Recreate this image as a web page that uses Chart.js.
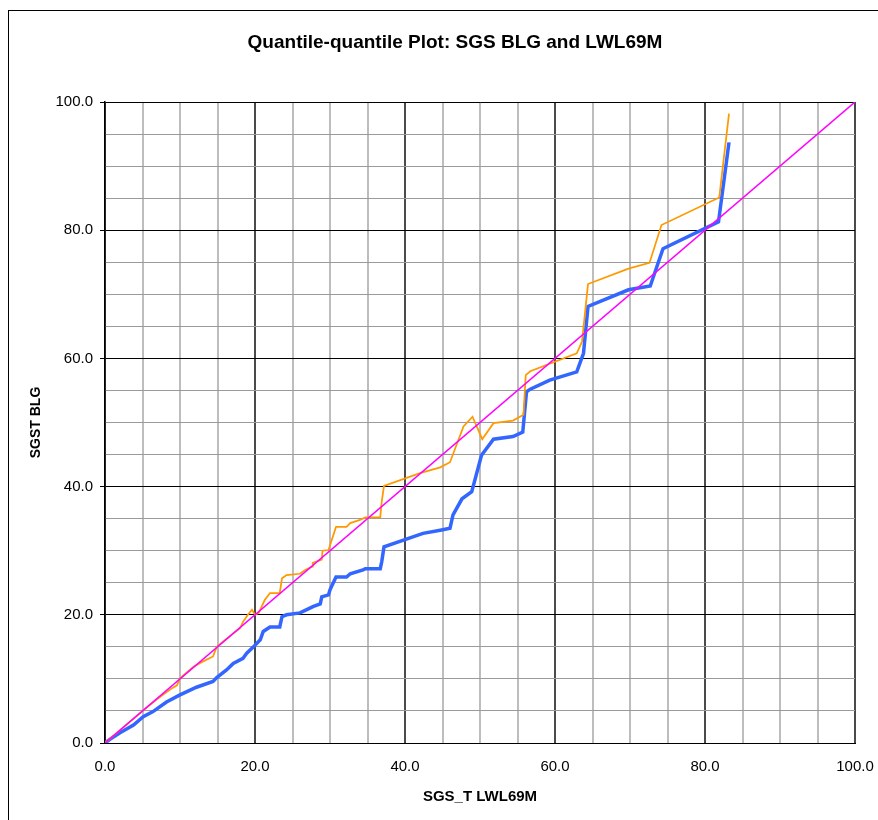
<!DOCTYPE html>
<html>
<head>
<meta charset="utf-8">
<title>Quantile-quantile Plot: SGS BLG and LWL69M</title>
<script src="https://cdn.jsdelivr.net/npm/chart.js@4.4.1/dist/chart.umd.min.js"></script>
<style>
  html, body { margin: 0; padding: 0; background: #fff; overflow: hidden; width: 878px; height: 820px; }
  #frame { position: absolute; left: 8px; top: 10px; width: 1000px; height: 1000px; border: 1px solid #000; box-sizing: border-box; }
  #qq { position: absolute; left: 0; top: 0; }
</style>
</head>
<body>
<div id="frame"></div>
<canvas id="qq" width="900" height="820"></canvas>
<script>
// Quantile pairs: SGS_T LWL69M (x) against SGST BLG (y)
const blueX = [0, 0.7, 2.0, 3.8, 5.1, 6.4, 8.2, 10.0, 12.2, 14.4, 14.9, 16.2, 17.1, 18.4, 18.9, 19.8, 20.7,
  21.1, 22.0, 23.3, 23.6, 24.2, 26.0, 26.9, 27.8, 28.7, 28.9, 29.8, 30.0, 30.8, 32.2, 32.7, 34.4, 34.7,
  36.7, 36.9, 37.2, 42.4, 44.7, 46.0, 46.4, 47.6, 48.9, 50.2, 51.8, 54.4, 55.7, 56.2, 56.7, 59.3, 62.9,
  63.8, 64.4, 69.8, 72.7, 74.4, 81.8, 83.2];
const blueY = [0, 0.6, 1.6, 2.8, 4.1, 4.9, 6.4, 7.5, 8.7, 9.6, 10.2, 11.4, 12.4, 13.2, 14.0, 15.0, 16.1,
  17.4, 18.1, 18.1, 19.7, 20.0, 20.3, 20.8, 21.3, 21.7, 22.8, 23.1, 23.9, 25.9, 25.9, 26.4, 27.0, 27.2,
  27.2, 28.3, 30.6, 32.7, 33.2, 33.5, 35.6, 38.1, 39.2, 44.9, 47.4, 47.8, 48.5, 54.8, 55.2, 56.6, 57.9,
  60.8, 68.1, 70.7, 71.3, 77.1, 81.3, 93.7];

const orangeX = [0, 2.0, 5.1, 7.0, 9.0, 9.6, 10.0, 11.8, 12.7, 14.4, 14.9, 17.1, 18.0, 18.4, 19.1, 19.6,
  20.0, 20.5, 20.9, 21.3, 22.0, 23.3, 23.6, 24.2, 26.0, 26.7, 27.6, 27.7, 28.9, 29.0, 29.8, 30.8, 32.2,
  32.7, 34.0, 34.7, 36.7, 36.9, 37.2, 42.0, 44.7, 46.0, 47.8, 49.0, 50.3, 51.8, 54.4, 55.8, 56.1, 56.7,
  62.9, 63.6, 64.4, 69.8, 72.6, 74.2, 81.9, 83.2];
const orangeY = [0, 2.0, 5.1, 6.9, 8.6, 9.0, 10.1, 11.9, 12.5, 13.5, 15.0, 17.1, 17.9, 18.9, 20.1, 20.8,
  20.0, 20.3, 21.3, 22.3, 23.4, 23.4, 25.7, 26.2, 26.4, 27.0, 27.5, 28.1, 28.6, 30.0, 30.1, 33.7, 33.7,
  34.3, 34.8, 35.2, 35.2, 37.7, 40.1, 42.1, 43.0, 43.8, 49.4, 50.9, 47.4, 49.9, 50.3, 51.2, 57.4, 58.0,
  60.8, 62.6, 71.6, 74.0, 74.9, 80.8, 85.1, 98.2];

// 1:1 reference line
const refX = [0, 100];
const refY = [0, 100];

// Axis grid every 5 units, labelled every 20
const gridValues = [0, 5, 10, 15, 20, 25, 30, 35, 40, 45, 50, 55, 60, 65, 70, 75, 80, 85, 90, 95, 100];
const labelledValues = [0, 20, 40, 60, 80, 100];

const chartTitle = 'Quantile-quantile Plot: SGS BLG and LWL69M';
const xTitle = 'SGS_T LWL69M';
const yTitle = 'SGST BLG';

const toPoints = (xs, ys) => xs.map((x, i) => ({ x: x, y: ys[i] }));

const FONT = '"Liberation Sans", Arial, Helvetica, sans-serif';
const isMajor = (ctx) => ctx.tick && labelledValues.includes(ctx.tick.value);

const titlePlugin = {
  id: 'plotTitle',
  afterDraw(chart) {
    const ctx = chart.ctx;
    ctx.save();
    ctx.font = 'bold 19px ' + FONT;
    ctx.fillStyle = '#000';
    ctx.textAlign = 'center';
    ctx.textBaseline = 'middle';
    ctx.fillText(chartTitle, 455, 43);
    ctx.restore();
  }
};

function axisTicks(scale) {
  scale.ticks = gridValues.map(v => ({ value: v }));
}
function tickLabel(v) {
  return labelledValues.includes(v) ? v.toFixed(1) : '';
}

new Chart(document.getElementById('qq'), {
  type: 'scatter',
  data: {
    datasets: [
      {
        label: '1:1',
        data: toPoints(refX, refY),
        showLine: true,
        borderColor: '#FF00FF',
        borderWidth: 1.5,
        pointRadius: 0,
        order: 0
      },
      {
        label: 'SGST BLG',
        data: toPoints(orangeX, orangeY),
        showLine: true,
        borderColor: '#FF9900',
        borderWidth: 1.75,
        pointRadius: 0,
        order: 1
      },
      {
        label: 'SGS_T LWL69M',
        data: toPoints(blueX, blueY),
        showLine: true,
        borderColor: '#3366FF',
        borderWidth: 3.5,
        pointRadius: 0,
        order: 2
      }
    ]
  },
  options: {
    responsive: false,
    animation: false,
    layout: { padding: { top: 102, right: 45, bottom: 0, left: 0 } },
    plugins: {
      legend: { display: false },
      tooltip: { enabled: false },
      title: { display: false }
    },
    scales: {
      x: {
        type: 'linear',
        min: 0,
        max: 100,
        afterBuildTicks: axisTicks,
        afterFit: (s) => { s.height = 77; },
        ticks: {
          callback: tickLabel,
          autoSkip: false,
          maxRotation: 0,
          color: '#000',
          padding: 10,
          font: { family: FONT, size: 15 }
        },
        grid: {
          color: (ctx) => isMajor(ctx) ? '#4a4a4a' : '#bdbdbd',
          lineWidth: 2,
          tickLength: 5,
          tickColor: 'rgba(0,0,0,0)'
        },
        border: { color: '#000', width: 1 },
        title: {
          display: true,
          text: xTitle,
          color: '#000',
          font: { family: FONT, size: 15, weight: 'bold' },
          padding: { top: 0, bottom: 14 }
        }
      },
      y: {
        type: 'linear',
        min: 0,
        max: 100,
        afterBuildTicks: axisTicks,
        afterFit: (s) => { s.width = 105; },
        ticks: {
          callback: tickLabel,
          autoSkip: false,
          color: '#000',
          padding: 7,
          font: { family: FONT, size: 15 }
        },
        grid: {
          color: (ctx) => isMajor(ctx) ? '#000' : '#9a9a9a',
          lineWidth: 1,
          tickLength: 5,
          tickColor: (ctx) => isMajor(ctx) ? '#000' : 'rgba(0,0,0,0)'
        },
        border: { color: '#000', width: 1.5 },
        title: {
          display: true,
          text: yTitle,
          color: '#000',
          font: { family: '"Liberation Sans Narrow", ' + FONT, size: 14, weight: 'bold' },
          padding: { top: 28, bottom: 0 }
        }
      }
    }
  },
  plugins: [titlePlugin]
});
</script>
</body>
</html>
